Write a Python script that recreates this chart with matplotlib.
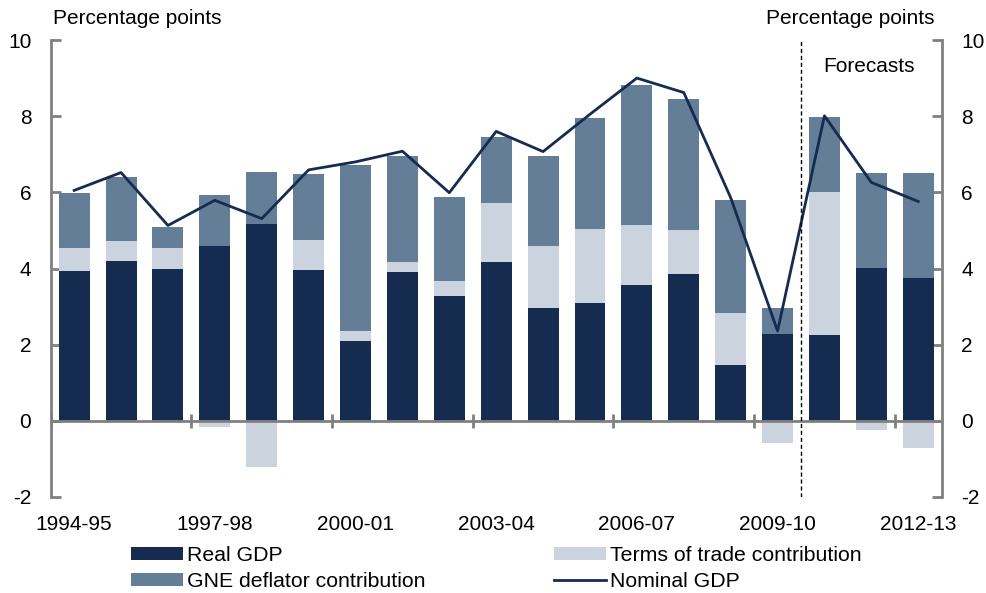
import matplotlib
matplotlib.use("Agg")
import matplotlib.pyplot as plt
import numpy as np

plt.rcParams['font.family'] = ['Liberation Sans', 'DejaVu Sans']

years = ["1994-95", "1995-96", "1996-97", "1997-98", "1998-99", "1999-00", "2000-01",
         "2001-02", "2002-03", "2003-04", "2004-05", "2005-06", "2006-07", "2007-08",
         "2008-09", "2009-10", "2010-11", "2011-12", "2012-13"]
real_gdp = [3.93, 4.19, 3.98, 4.59, 5.16, 3.95, 2.09, 3.90, 3.28, 4.16, 2.96, 3.09, 3.57, 3.85,
            1.46, 2.29, 2.25, 4.01, 3.75]
terms_of_trade = [0.62, 0.53, 0.57, -0.17, -1.22, 0.81, 0.26, 0.26, 0.39, 1.55, 1.62, 1.95, 1.57, 1.15,
                  1.36, -0.58, 3.76, -0.23, -0.72]
# GNE deflator contribution stacked on top of positive parts
gne_deflator = [1.42, 1.69, 0.53, 1.33, 1.38, 1.72, 4.36, 2.80, 2.21, 1.74, 2.37, 2.91, 3.67, 3.45,
                2.98, 0.66, 1.98, 2.49, 2.75]
nominal_gdp = [6.05, 6.52, 5.13, 5.79, 5.31, 6.59, 6.80, 7.08, 5.99, 7.60, 7.07, 8.05, 9.00, 8.62,
               5.86, 2.36, 8.01, 6.26, 5.76]
tick_labels = ["1994-95", "1997-98", "2000-01", "2003-04", "2006-07", "2009-10", "2012-13"]

NAVY = "#162B50"
SLATE = "#637E96"
LIGHT = "#CBD3DE"
GREY = "#808080"

fig = plt.figure(figsize=(9.87, 5.93), dpi=100)
ax = fig.add_axes([50.7/987, 1-497/593, (941.7-50.7)/987, (497-40)/593])

x = np.arange(len(years))
real = np.array(real_gdp)
tot = np.array(terms_of_trade)
gne = np.array(gne_deflator)
w = 0.66

ax.bar(x, real, width=w, color=NAVY, edgecolor='none', zorder=2, label='Real GDP')
tot_bottom = np.where(tot >= 0, real, 0)
ax.bar(x, tot, width=w, bottom=tot_bottom, color=LIGHT, edgecolor='none', zorder=2,
       label='Terms of trade contribution')
gne_bottom = real + np.where(tot > 0, tot, 0)
ax.bar(x, gne, width=w, bottom=gne_bottom, color=SLATE, edgecolor='none', zorder=2,
       label='GNE deflator contribution')
ax.plot(x, nominal_gdp, color=NAVY, lw=2.0, zorder=4, label='Nominal GDP')

ax.set_xlim(-0.5, len(years) - 0.5)
ax.set_ylim(-2, 10)

# zero line and boundary ticks
ax.axhline(0, color=GREY, lw=2, zorder=3)
bounds = np.arange(0, len(years) + 1, 3) - 0.5
ax.vlines(bounds, -0.18, 0.18, color=GREY, lw=2, zorder=3)

# forecast divider
ax.axvline(15.5, color='black', lw=1, ls=(0, (3, 2)), zorder=5, ymin=0, ymax=1)
ax.text(16.95, 9.3, "Forecasts", fontsize=15, ha='center', va='center')

for s in ['top', 'bottom']:
    ax.spines[s].set_visible(False)
for s in ['left', 'right']:
    ax.spines[s].set_color(GREY)
    ax.spines[s].set_linewidth(2)

ax.set_yticks(np.arange(-2, 11, 2))
ax.set_yticklabels([str(v) for v in range(-2, 11, 2)])
ax.tick_params(axis='y', direction='in', length=7, width=2, color=GREY, labelsize=15,
               left=True, right=True, labelleft=True, labelright=True, pad=14)
ax.set_xticks(x[::3])
ax.set_xticklabels(tick_labels)
ax.tick_params(axis='x', length=0, labelsize=15, pad=13)

fig.text(53/987, 1-18/593, "Percentage points", fontsize=15, ha='left', va='center')
fig.text(935/987, 1-18/593, "Percentage points", fontsize=15, ha='right', va='center')

h, l = ax.get_legend_handles_labels()
hd = dict(zip(l, h))
common = dict(loc='upper left', frameon=False, fontsize=15.3, handlelength=2.45,
              handleheight=0.6, handletextpad=0.2, labelspacing=0.32,
              borderpad=0, borderaxespad=0)
leg1 = fig.legend([hd['Real GDP'], hd['GNE deflator contribution']],
                  ['Real GDP', 'GNE deflator contribution'],
                  bbox_to_anchor=(131/987, 1-546/593), **common)
leg2 = fig.legend([hd['Terms of trade contribution'], hd['Nominal GDP']],
                  ['Terms of trade contribution', 'Nominal GDP'],
                  bbox_to_anchor=(554/987, 1-546/593), **common)

fig.savefig("out.png", dpi=100)
